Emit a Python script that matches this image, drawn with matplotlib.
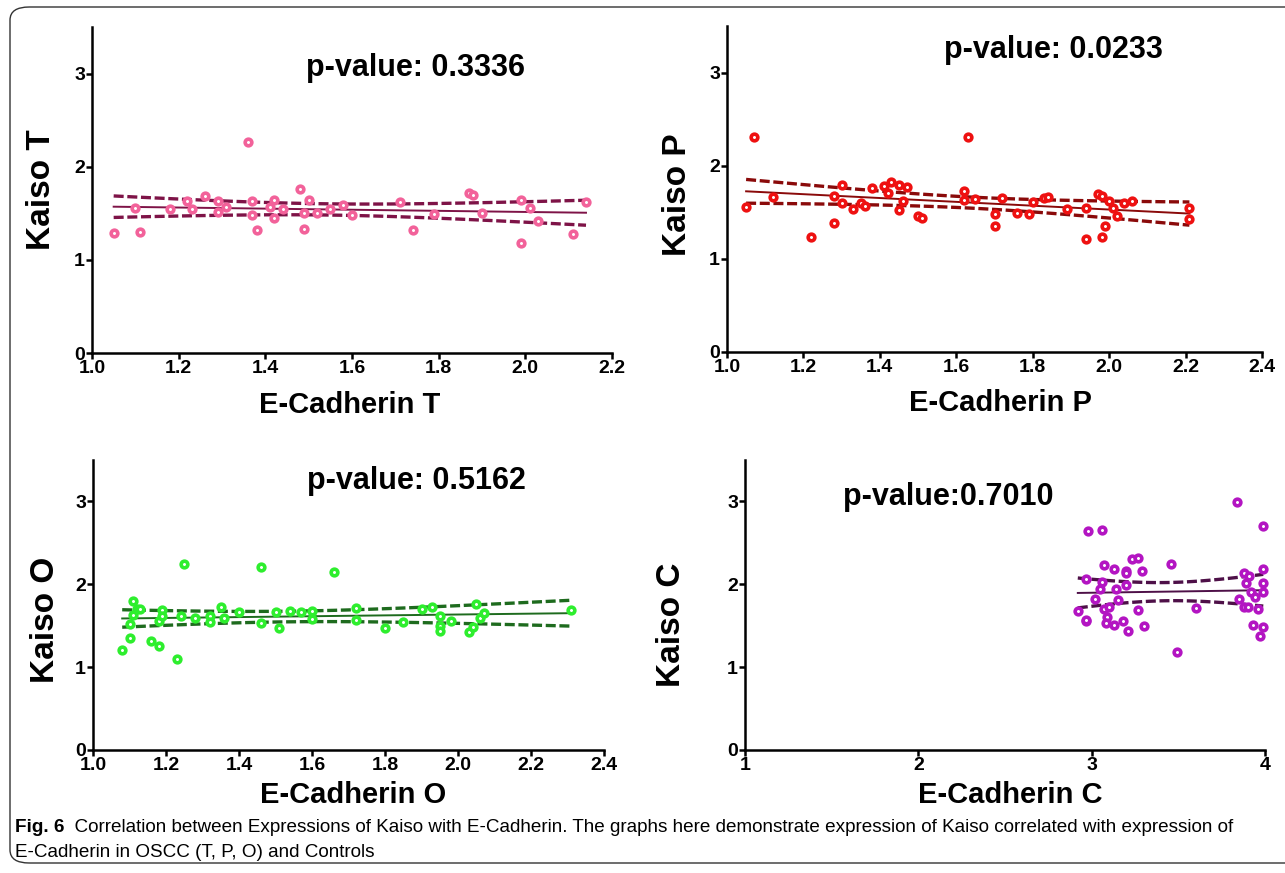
import numpy as np
import matplotlib
matplotlib.use("Agg")
import matplotlib.pyplot as plt
from matplotlib.patches import FancyBboxPatch

# Kaiso vs E-Cadherin expression, tumour (T)
ecad_t = [1.05, 1.11, 1.10, 1.22, 1.23, 1.26, 1.29, 1.29, 1.31, 1.36, 1.37, 1.37, 1.38,
          1.42, 1.42, 1.48, 1.49, 1.50, 1.49, 1.52, 1.58, 1.60, 1.71, 1.74, 1.79, 1.87,
          1.88, 1.90, 1.99, 1.99, 2.01, 2.03, 2.11, 2.14, 1.41, 1.44, 1.55, 1.18]
kaiso_t = [1.29, 1.30, 1.56, 1.63, 1.55, 1.69, 1.63, 1.51, 1.57, 2.26, 1.63, 1.48, 1.32,
           1.64, 1.45, 1.76, 1.33, 1.64, 1.50, 1.50, 1.59, 1.48, 1.62, 1.32, 1.49, 1.72,
           1.70, 1.50, 1.64, 1.18, 1.56, 1.42, 1.28, 1.62, 1.57, 1.55, 1.55, 1.55]

# peritumoral (P)
ecad_p = [1.05, 1.07, 1.12, 1.22, 1.28, 1.28, 1.30, 1.30, 1.33, 1.35, 1.36, 1.38, 1.41,
          1.42, 1.43, 1.45, 1.45, 1.46, 1.47, 1.50, 1.51, 1.62, 1.63, 1.62, 1.65, 1.70,
          1.70, 1.72, 1.76, 1.79, 1.80, 1.83, 1.84, 1.89, 1.94, 1.94, 1.97, 1.98, 1.98,
          1.99, 2.00, 2.01, 2.02, 2.04, 2.06, 2.21, 2.21]
kaiso_p = [1.56, 2.31, 1.66, 1.24, 1.68, 1.38, 1.79, 1.60, 1.54, 1.60, 1.57, 1.76, 1.78,
           1.71, 1.82, 1.79, 1.52, 1.62, 1.77, 1.46, 1.44, 1.73, 2.31, 1.63, 1.64, 1.48,
           1.35, 1.65, 1.49, 1.48, 1.61, 1.65, 1.66, 1.54, 1.21, 1.55, 1.70, 1.68, 1.24,
           1.35, 1.62, 1.55, 1.46, 1.60, 1.62, 1.55, 1.43]

# oral mucosa (O)
ecad_o = [1.08, 1.10, 1.10, 1.11, 1.11, 1.12, 1.13, 1.16, 1.18, 1.18, 1.19, 1.19, 1.23,
          1.25, 1.24, 1.28, 1.32, 1.32, 1.35, 1.36, 1.40, 1.46, 1.46, 1.50, 1.51, 1.54,
          1.57, 1.60, 1.60, 1.66, 1.72, 1.72, 1.80, 1.85, 1.90, 1.93, 1.95, 1.95, 1.95,
          1.98, 2.03, 2.04, 2.05, 2.06, 2.07, 2.31]
kaiso_o = [1.21, 1.52, 1.35, 1.80, 1.63, 1.70, 1.70, 1.32, 1.25, 1.56, 1.69, 1.62, 1.10,
           2.24, 1.62, 1.59, 1.62, 1.54, 1.72, 1.59, 1.67, 2.21, 1.53, 1.66, 1.47, 1.68,
           1.66, 1.68, 1.58, 2.15, 1.71, 1.57, 1.47, 1.55, 1.70, 1.73, 1.62, 1.50, 1.44,
           1.56, 1.43, 1.48, 1.76, 1.59, 1.65, 1.69]

# controls (C)
ecad_c = [3.84, 2.98, 3.06, 3.99, 3.07, 3.13, 3.20, 3.20, 3.23, 3.27, 3.29, 3.46, 2.97,
          3.06, 3.05, 3.14, 3.20, 3.02, 3.15, 2.92, 3.07, 3.10, 2.97, 2.97, 3.09, 3.08,
          3.13, 3.18, 3.21, 3.27, 3.30, 3.60, 3.49, 3.88, 3.91, 3.99, 3.89, 3.99, 3.85,
          3.92, 3.94, 3.99, 3.88, 3.90, 3.96, 3.93, 3.99, 3.97]
kaiso_c = [2.99, 2.64, 2.66, 2.70, 2.23, 2.18, 2.16, 2.14, 2.30, 2.32, 2.16, 2.24, 2.06,
           2.03, 1.94, 1.94, 1.99, 1.82, 1.81, 1.68, 1.70, 1.73, 1.56, 1.57, 1.60, 1.53,
           1.51, 1.56, 1.44, 1.69, 1.50, 1.71, 1.18, 2.14, 2.10, 2.18, 2.02, 2.02, 1.82,
           1.91, 1.85, 1.91, 1.73, 1.72, 1.70, 1.51, 1.49, 1.37]

p_values = ["p-value: 0.3336", "p-value: 0.0233", "p-value: 0.5162", "p-value:0.7010"]
groups = ["T", "P", "O", "C"]
dot_colors = ["#F2629A", "#EE1111", "#2EEE2E", "#B315C2"]
line_colors = ["#7E1347", "#8A0A0A", "#1E6B1E", "#4E1048"]

caption_bold = "Fig. 6"
caption_line1 = ("  Correlation between Expressions of Kaiso with E-Cadherin. The graphs here "
                 "demonstrate expression of Kaiso correlated with expression of")
caption_line2 = "E-Cadherin in OSCC (T, P, O) and Controls"

W, H = 1285, 873
plt.rcParams["font.family"] = ["Liberation Sans", "DejaVu Sans"]
fig = plt.figure(figsize=(W / 100, H / 100), dpi=100)


def px_axes(left, right, bottom, top):
    return fig.add_axes([left / W, 1 - bottom / H, (right - left) / W, (bottom - top) / H])


def fit_band(x, y, xs):
    # least squares line with 95% confidence band of the mean
    n = len(x)
    b, a = np.polyfit(x, y, 1)
    resid = y - (a + b * x)
    s = np.sqrt(np.sum(resid ** 2) / (n - 2))
    sxx = np.sum((x - x.mean()) ** 2)
    t = 1.96 + 2.5 / (n - 2)
    yhat = a + b * xs
    half = t * s * np.sqrt(1.0 / n + (xs - x.mean()) ** 2 / sxx)
    return yhat, yhat - half, yhat + half


# panel boxes in pixels: left, right (x max), bottom (y=0), top (y=3.5)
boxes = [(92, 612, 353, 27), (727, 1262, 352, 26), (93, 604, 750, 460), (745, 1265, 750, 460)]
xlims = [(1.0, 2.2), (1.0, 2.4), (1.0, 2.4), (1, 4)]
xticks = [np.arange(1.0, 2.21, 0.2), np.arange(1.0, 2.41, 0.2), np.arange(1.0, 2.41, 0.2), [1, 2, 3, 4]]
xs_data = [ecad_t, ecad_p, ecad_o, ecad_c]
ys_data = [kaiso_t, kaiso_p, kaiso_o, kaiso_c]
title_pos = [(415, 68), (1053, 50), (416, 481), (948, 497)]
xlabel_pos = [(350, 405), (1000, 403), (353, 795), (1010, 795)]
ylabel_pos = [(42, 190), (677, 195), (45, 620), (672, 625)]

for i in range(4):
    l, r, b, t = boxes[i]
    ax = px_axes(l, r, b, t)
    x = np.asarray(xs_data[i])
    y = np.asarray(ys_data[i])
    xs = np.linspace(x.min(), x.max(), 100)
    yhat, lo, hi = fit_band(x, y, xs)
    ax.plot(xs, yhat, color=line_colors[i], lw=1.4, zorder=2)
    ax.plot(xs, lo, color=line_colors[i], lw=2.4, ls=(0, (3, 1.1)), zorder=2)
    ax.plot(xs, hi, color=line_colors[i], lw=2.4, ls=(0, (3, 1.1)), zorder=2)
    ax.plot(x, y, "o", ms=4.8, mfc="white", mec=dot_colors[i], mew=2.6, zorder=3, clip_on=False)

    ax.set_xlim(*xlims[i])
    ax.set_ylim(0, 3.5)
    ax.set_yticks([0, 1, 2, 3])
    ax.set_xticks(xticks[i])
    if i < 3:
        ax.set_xticklabels(["%.1f" % v for v in xticks[i]])
    for side in ["top", "right"]:
        ax.spines[side].set_visible(False)
    for side in ["left", "bottom"]:
        ax.spines[side].set_linewidth(1.8)
    ax.tick_params(width=1.8, length=4, pad=1, labelsize=14)
    for lab in ax.get_xticklabels() + ax.get_yticklabels():
        lab.set_fontweight("bold")
    ax.patch.set_alpha(0)

    fig.text(title_pos[i][0] / W, 1 - title_pos[i][1] / H, p_values[i], fontsize=22,
             fontweight="bold", ha="center", va="center")
    fig.text(xlabel_pos[i][0] / W, 1 - xlabel_pos[i][1] / H, "E-Cadherin " + groups[i],
             fontsize=21, fontweight="bold", ha="center", va="center")
    fig.text(ylabel_pos[i][0] / W, 1 - ylabel_pos[i][1] / H, "Kaiso " + groups[i],
             fontsize=24, fontweight="bold", ha="center", va="center", rotation=90)

# rounded frame around the figure
frame = FancyBboxPatch((10 / W, 10 / H), 1300 / W, 856 / H, boxstyle="round,pad=0,rounding_size=0.015",
                       transform=fig.transFigure, fill=False, ec="#333333", lw=1.0)
fig.patches.append(frame)

t1 = fig.text(15 / W, 1 - 832 / H, caption_bold, fontsize=13.6, fontweight="bold")
fig.add_artist(plt.Annotation(caption_line1, xy=(1, 0), xycoords=t1, va="bottom", ha="left",
                              fontsize=13.6))
fig.text(15 / W, 1 - 857 / H, caption_line2, fontsize=13.6)

fig.savefig("out.png", dpi=100)
